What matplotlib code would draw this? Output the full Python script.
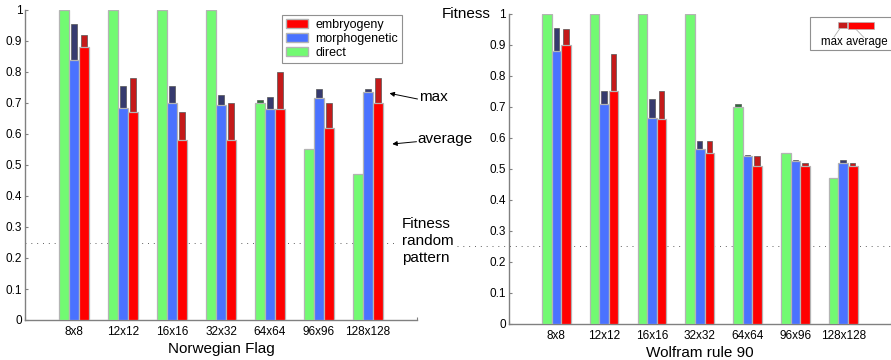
import matplotlib
matplotlib.use("Agg")
import matplotlib.pyplot as plt
from matplotlib.patches import Rectangle, Patch
from matplotlib.lines import Line2D
import numpy as np

plt.rcParams['font.family'] = ['Liberation Sans', 'DejaVu Sans']

cats = ['8x8', '12x12', '16x16', '32x32', '64x64', '96x96', '128x128']

flag_direct_avg = [1.0, 1.0, 1.0, 1.0, 0.70, 0.55, 0.47]
flag_direct_max = [1.0, 1.0, 1.0, 1.0, 0.71, 0.55, 0.47]
flag_morph_avg = [0.84, 0.685, 0.70, 0.695, 0.68, 0.715, 0.735]
flag_morph_max = [0.955, 0.755, 0.755, 0.725, 0.72, 0.745, 0.745]
flag_emb_avg = [0.88, 0.67, 0.58, 0.58, 0.68, 0.62, 0.70]
flag_emb_max = [0.92, 0.78, 0.67, 0.70, 0.80, 0.70, 0.78]

wolf_direct_avg = [1.0, 1.0, 1.0, 1.0, 0.70, 0.55, 0.47]
wolf_direct_max = [1.0, 1.0, 1.0, 1.0, 0.71, 0.55, 0.47]
wolf_morph_avg = [0.88, 0.71, 0.665, 0.565, 0.54, 0.525, 0.52]
wolf_morph_max = [0.955, 0.75, 0.725, 0.59, 0.545, 0.53, 0.527]
wolf_emb_avg = [0.90, 0.75, 0.66, 0.55, 0.51, 0.51, 0.51]
wolf_emb_max = [0.95, 0.87, 0.75, 0.59, 0.54, 0.52, 0.52]

random_fitness = 0.25
yticks = [0, 0.1, 0.2, 0.3, 0.4, 0.5, 0.6, 0.7, 0.8, 0.9, 1]
ytick_labels = ['0', '0.1', '0.2', '0.3', '0.4', '0.5', '0.6', '0.7', '0.8', '0.9', '1']

GREEN = '#72fa72'
BLUE = '#4a72ff'
RED = '#ff0000'
DGREEN = '#2f6a3a'
DBLUE = '#363a6e'
DRED = '#c41a1a'
EDGE = '#b4b4b4'
SPINE = '#808080'

W, H = 891, 360
fig = plt.figure(figsize=(W / 100, H / 100), dpi=100)


def px_axes(l, t, r, b):
    return fig.add_axes([l / W, 1 - b / H, (r - l) / W, (b - t) / H])


def draw_panel(ax, d_avg, d_max, m_avg, m_max, e_avg, e_max, xmax, title):
    x = np.arange(1, len(cats) + 1)
    bw = 0.2
    mw = 0.115
    groups = [(-bw, d_avg, d_max, GREEN, DGREEN),
              (0.0, m_avg, m_max, BLUE, DBLUE),
              (bw, e_avg, e_max, RED, DRED)]
    for off, avg, mx, c, dc in groups:
        avg = np.array(avg)
        mx = np.array(mx)
        ax.bar(x + off, mx - avg, width=mw, bottom=avg, color=dc,
               edgecolor='#555555', linewidth=0.5, zorder=2)
        ax.bar(x + off, avg, width=bw, color=c, edgecolor=EDGE,
               linewidth=0.9, zorder=3)
    ax.set_ylim(0, 1)
    ax.set_xlim(0, xmax)
    ax.set_yticks(yticks)
    ax.set_yticklabels(ytick_labels)
    ticks = list(range(0, len(cats) + 2))
    ax.set_xticks(ticks)
    ax.set_xticklabels([''] + cats + [''])
    for s in ['top', 'right']:
        ax.spines[s].set_visible(False)
    for s in ['left', 'bottom']:
        ax.spines[s].set_color(SPINE)
        ax.spines[s].set_linewidth(1.0)
    ax.tick_params(direction='in', length=2.5, color=SPINE, labelsize=8.5,
                   pad=2)
    ax.tick_params(axis='x', pad=4)
    ax.text(4, -0.07, title, ha='center', va='top', fontsize=11,
            transform=ax.get_xaxis_transform())
    ax.set_facecolor('none')


# Left panel: Norwegian flag
ax1 = px_axes(25, 10, 417, 320)
draw_panel(ax1, flag_direct_avg, flag_direct_max, flag_morph_avg,
           flag_morph_max, flag_emb_avg, flag_emb_max, 8, 'Norwegian Flag')
ax1.plot([0, 7.6], [random_fitness, random_fitness], color='#606060',
         lw=0.7, linestyle=(0, (1, 5)), zorder=1, clip_on=False)

leg = ax1.legend(handles=[Patch(facecolor=RED, edgecolor=EDGE, label='embryogeny'),
                          Patch(facecolor=BLUE, edgecolor=EDGE, label='morphogenetic'),
                          Patch(facecolor=GREEN, edgecolor=EDGE, label='direct')],
                 loc='upper left', bbox_to_anchor=(282 / W, 1 - 14.7 / H),
                 bbox_transform=fig.transFigure, borderaxespad=0,
                 fancybox=False, edgecolor='#909090', fontsize=9,
                 handlelength=1.75, handleheight=0.75, handletextpad=0.55,
                 labelspacing=0.15, borderpad=0.35, framealpha=1)
leg.get_frame().set_linewidth(0.8)

# Right panel: Wolfram rule 90
ax2 = px_axes(508.5, 13.7, 891, 324)
draw_panel(ax2, wolf_direct_avg, wolf_direct_max, wolf_morph_avg,
           wolf_morph_max, wolf_emb_avg, wolf_emb_max, (891 - 508.5) / 49.2,
           'Wolfram rule 90')
ax2.plot([-1.08, 8], [random_fitness, random_fitness], color='#606060',
         lw=0.7, linestyle=(0, (1, 5)), zorder=1, clip_on=False)

# Annotations (figure pixel coordinates)
def fp(xp, yp):
    return (xp, H - yp)

fig.text(419 / W, 1 - 97 / H, 'max', fontsize=11, va='center', ha='left')
fig.text(417 / W, 1 - 138.5 / H, 'average', fontsize=11, va='center', ha='left')
ax1.annotate('', xy=fp(389.5, 93.3), xytext=fp(417.5, 99),
             xycoords='figure pixels', textcoords='figure pixels',
             arrowprops=dict(arrowstyle='-|>', color='black', lw=0.7,
                             mutation_scale=7, shrinkA=0, shrinkB=0))
ax1.annotate('', xy=fp(392.3, 144), xytext=fp(416.5, 141.7),
             xycoords='figure pixels', textcoords='figure pixels',
             arrowprops=dict(arrowstyle='-|>', color='black', lw=0.7,
                             mutation_scale=7, shrinkA=0, shrinkB=0))
fig.text(402 / W, 1 - 217.5 / H, 'Fitness\nrandom\npattern', fontsize=11,
         va='top', ha='left', linespacing=1.25)
fig.text(441.5 / W, 1 - 13.5 / H, 'Fitness', fontsize=11, va='center', ha='left')

# Right custom legend
fig.patches.append(Rectangle((810 / W, 1 - 50 / H), 90 / W, 32.7 / H,
                             transform=fig.transFigure, facecolor='white',
                             edgecolor='#909090', lw=0.8, zorder=5))
fig.patches.append(Rectangle((837.7 / W, 1 - 28.3 / H), 9.6 / W, 6 / H,
                             transform=fig.transFigure, facecolor=DRED,
                             edgecolor=EDGE, lw=0.5, zorder=6))
fig.patches.append(Rectangle((848.3 / W, 1 - 29.3 / H), 25.7 / W, 7.6 / H,
                             transform=fig.transFigure, facecolor=RED,
                             edgecolor=EDGE, lw=0.5, zorder=6))
fig.lines.append(Line2D([840 / W, 834 / W], [1 - 28.3 / H, 1 - 37 / H],
                        transform=fig.transFigure, color='#b0b0b0', lw=0.6, zorder=6))
fig.lines.append(Line2D([856 / W, 864 / W], [1 - 29.3 / H, 1 - 37.5 / H],
                        transform=fig.transFigure, color='#b0b0b0', lw=0.6, zorder=6))
t = fig.text(821 / W, 1 - 42 / H, 'max average', fontsize=8.3, va='center',
             ha='left', zorder=7)

fig.savefig('out.png', dpi=100)
